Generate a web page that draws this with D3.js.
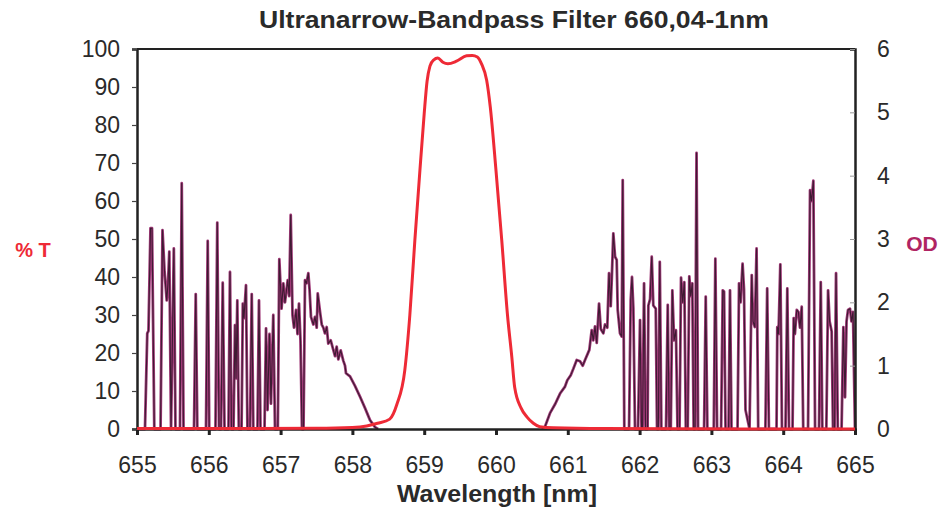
<!DOCTYPE html>
<html lang="en">
  <head>
    <meta charset="UTF-8" />
    <title>Ultranarrow-Bandpass Filter</title>
    <script src="https://cdn.jsdelivr.net/npm/d3@7"></script>
    <style>
      html,
      body {
        margin: 0;
        padding: 0;
        background: #fff;
      }
      svg {
        display: block;
      }
      .tick text {
        font-family: 'Liberation Sans', sans-serif;
        font-size: 23px;
        fill: #2a2a2a;
      }
    </style>
  </head>
  <body>
    <svg width="945" height="511"></svg>
    <script>
      const xTicks = [655, 656, 657, 658, 659, 660, 661, 662, 663, 664, 665];
      const tTicks = [0, 10, 20, 30, 40, 50, 60, 70, 80, 90, 100];
      const odTicks = [0, 1, 2, 3, 4, 5, 6];

      // %T curve [nm, %T]
      const transmission = [
        [655, 0.1], [657.5, 0.2], [658.0, 0.4], [658.2, 0.8], [658.35, 1.5],
        [658.52, 2.6], [658.62, 6.5], [658.73, 15.5], [658.8, 30], [658.87, 49.7],
        [658.94, 68], [659.0, 83], [659.04, 91.5], [659.08, 95.5], [659.13, 97.1],
        [659.19, 97.6], [659.26, 96.5], [659.33, 96.1], [659.45, 96.8], [659.59, 98.2],
        [659.67, 98.3], [659.74, 97.9], [659.8, 96], [659.87, 91.8], [659.92, 84.8],
        [660.0, 68], [660.08, 49.7], [660.16, 30], [660.22, 19], [660.26, 11],
        [660.35, 5.5], [660.43, 3.2], [660.52, 1.5], [660.61, 0.6], [660.8, 0.3],
        [661.5, 0.1], [665, 0]
      ];

      // OD below the passband [nm, OD]
      const odLeft = [
        [655.0, 0], [655.111, 0], [655.143, 1.51], [655.16, 1.55], [655.188, 3.17],
        [655.209, 3.17], [655.241, 0], [655.328, 0], [655.355, 3.14], [655.383, 2.5],
        [655.414, 2.03], [655.432, 2.3], [655.45, 2.8], [655.474, 0], [655.513, 2.85],
        [655.536, 0], [655.599, 0], [655.623, 3.88], [655.648, 0], [655.794, 0],
        [655.818, 2.13], [655.84, 0], [655.961, 0], [655.985, 2.97], [656.006, 0],
        [656.093, 0], [656.118, 3.26], [656.142, 0], [656.17, 0], [656.194, 2.31],
        [656.219, 0], [656.274, 0], [656.295, 2.48], [656.316, 0], [656.344, 0],
        [656.365, 1.64], [656.379, 0.8], [656.397, 2.03], [656.418, 0], [656.456, 0],
        [656.474, 1.98], [656.49, 1.75], [656.518, 2.27], [656.538, 0], [656.574, 0],
        [656.598, 2.13], [656.62, 0], [656.678, 0], [656.699, 2.03], [656.72, 0],
        [656.776, 0], [656.797, 1.59], [656.818, 0.3], [656.845, 1.5], [656.866, 0.4],
        [656.898, 1.8], [656.922, 0], [656.961, 0], [656.982, 2.68], [657.013, 1.9],
        [657.038, 2.3], [657.061, 2.0], [657.099, 2.35], [657.12, 2.1], [657.141, 3.38],
        [657.166, 1.8], [657.187, 1.6], [657.215, 1.88], [657.235, 1.5], [657.256, 1.98],
        [657.277, 1.4], [657.298, 0], [657.319, 0], [657.34, 2.35], [657.361, 2.3],
        [657.386, 2.46], [657.403, 2.2], [657.423, 1.77], [657.456, 1.65], [657.479, 1.77],
        [657.503, 1.6], [657.517, 2.14], [657.549, 1.85], [657.573, 1.65], [657.595, 1.6],
        [657.618, 1.51], [657.642, 1.61], [657.664, 1.35], [657.698, 1.4], [657.734, 1.25],
        [657.758, 1.15], [657.781, 1.3], [657.804, 1.1], [657.837, 1.24], [657.873, 1.08],
        [657.897, 1.0], [657.911, 0.88], [657.967, 0.83], [658.036, 0.68], [658.106, 0.51],
        [658.176, 0.33], [658.245, 0.14], [658.315, 0.03], [658.357, 0]
      ];

      // OD above the passband [nm, OD]
      const odRight = [
        [660.641, 0], [660.683, 0.04], [660.752, 0.25], [660.822, 0.39], [660.892, 0.56],
        [660.961, 0.67], [660.993, 0.77], [661.041, 0.85], [661.077, 0.95], [661.124, 1.09],
        [661.17, 1.07], [661.208, 1.0], [661.24, 1.09], [661.3, 1.25], [661.333, 1.56],
        [661.355, 1.4], [661.379, 1.62], [661.403, 1.36], [661.435, 1.98], [661.459, 1.58],
        [661.495, 1.51], [661.518, 1.65], [661.55, 1.6], [661.574, 2.46], [661.598, 1.94],
        [661.612, 2.36], [661.634, 3.09], [661.658, 2.72], [661.681, 2.67], [661.695, 1.88],
        [661.727, 1.51], [661.751, 1.46], [661.765, 3.93], [661.787, 0], [661.853, 0],
        [661.876, 2.03], [661.894, 2.4], [661.913, 1.9], [661.936, 0], [661.978, 0],
        [662.006, 1.72], [662.027, 0], [662.041, 0], [662.062, 2.3], [662.083, 0],
        [662.111, 0], [662.122, 1.95], [662.146, 2.05], [662.169, 2.72], [662.191, 1.95],
        [662.225, 1.9], [662.243, 0], [662.261, 0], [662.281, 2.64], [662.303, 0],
        [662.368, 0], [662.392, 1.96], [662.413, 0], [662.434, 0], [662.456, 2.19],
        [662.48, 1.4], [662.506, 1.56], [662.528, 0], [662.556, 0], [662.577, 2.39],
        [662.601, 2.0], [662.623, 2.32], [662.644, 0], [662.67, 0], [662.692, 2.41],
        [662.712, 2.1], [662.734, 2.3], [662.753, 0], [662.772, 0], [662.793, 4.36],
        [662.814, 0], [662.898, 0], [662.921, 2.09], [662.944, 0], [663.033, 0],
        [663.055, 2.69], [663.079, 0], [663.135, 0], [663.158, 2.19], [663.176, 2.17],
        [663.197, 0], [663.239, 0], [663.259, 2.19], [663.28, 0], [663.364, 0],
        [663.385, 2.3], [663.406, 2.0], [663.434, 2.61], [663.454, 2.2], [663.475, 0.3],
        [663.531, 0], [663.562, 2.43], [663.58, 1.7], [663.605, 1.61], [663.629, 2.85],
        [663.652, 0], [663.752, 0], [663.777, 2.22], [663.801, 0], [663.907, 0],
        [663.918, 1.61], [663.935, 1.5], [663.96, 2.6], [663.983, 0], [664.032, 0],
        [664.057, 2.22], [664.081, 0], [664.13, 0], [664.146, 1.75], [664.163, 1.5],
        [664.189, 1.88], [664.211, 1.85], [664.234, 1.6], [664.258, 1.93], [664.279, 0],
        [664.346, 0], [664.374, 3.77], [664.395, 3.6], [664.42, 3.92], [664.444, 0],
        [664.499, 0], [664.523, 2.32], [664.545, 0], [664.601, 0], [664.625, 2.19],
        [664.646, 1.7], [664.675, 1.54], [664.694, 0], [664.715, 0], [664.736, 2.46],
        [664.76, 0], [664.813, 0], [664.838, 1.61], [664.861, 0.5], [664.882, 1.7],
        [664.903, 1.88], [664.93, 1.9], [664.951, 1.7], [664.972, 1.85], [665.0, 0]
      ];

      const plotLeft = 137,
        plotRight = 855,
        plotTop = 49,
        plotBottom = 429;

      const svg = d3.select('svg');

      const xScale = d3
        .scaleLinear()
        .domain([655, 665])
        .range([plotLeft, plotRight]);
      const tScale = d3
        .scaleLinear()
        .domain([0, 100])
        .range([plotBottom, plotTop]);
      const odScale = d3
        .scaleLinear()
        .domain([0, 6])
        .range([plotBottom, plotTop]);

      // frame top line
      svg
        .append('line')
        .attr('x1', plotLeft)
        .attr('x2', plotRight)
        .attr('y1', plotTop)
        .attr('y2', plotTop)
        .style('stroke', '#222')
        .style('stroke-width', 2);

      const tLine = d3
        .line()
        .x(function(d) {
          return xScale(d[0]);
        })
        .y(function(d) {
          return tScale(d[1]);
        })
        .curve(d3.curveMonotoneX);

      const odLine = d3
        .line()
        .x(function(d) {
          return xScale(d[0]);
        })
        .y(function(d) {
          return odScale(d[1]);
        });

      // OD traces: magenta halo + dark core
      [odLeft, odRight].forEach(function(series) {
        svg
          .append('path')
          .datum(series)
          .attr('d', odLine)
          .style('fill', 'none')
          .style('stroke', '#a03a78')
          .style('stroke-width', 2.8)
          .style('stroke-linejoin', 'round');
        svg
          .append('path')
          .datum(series)
          .attr('d', odLine)
          .style('fill', 'none')
          .style('stroke', '#3e1a32')
          .style('stroke-width', 1.1)
          .style('stroke-linejoin', 'round');
      });

      // axes
      const xAxis = d3
        .axisBottom(xScale)
        .tickValues(xTicks)
        .tickFormat(d3.format('d'))
        .tickSize(6)
        .tickPadding(22);
      const tAxis = d3
        .axisLeft(tScale)
        .tickValues(tTicks)
        .tickSize(5)
        .tickPadding(12);
      const odAxis = d3
        .axisRight(odScale)
        .tickValues(odTicks)
        .tickFormat(d3.format('d'))
        .tickSize(-5)
        .tickPadding(22);

      svg
        .append('g')
        .attr('id', 'xAxisG')
        .attr('transform', 'translate(0,' + plotBottom + ')')
        .call(xAxis);
      svg
        .append('g')
        .attr('id', 'tAxisG')
        .attr('transform', 'translate(' + plotLeft + ',0)')
        .call(tAxis);
      svg
        .append('g')
        .attr('id', 'odAxisG')
        .attr('transform', 'translate(' + plotRight + ',0)')
        .call(odAxis);

      d3.selectAll('path.domain')
        .style('stroke', '#222')
        .style('stroke-width', 2.5);
      d3.select('#xAxisG')
        .selectAll('.tick line')
        .style('stroke', '#222')
        .style('stroke-width', 3);
      d3.select('#tAxisG')
        .selectAll('.tick line')
        .style('stroke', '#444')
        .style('stroke-width', 1.2);
      d3.select('#odAxisG')
        .selectAll('.tick line')
        .style('stroke', '#999')
        .style('stroke-width', 1);

      // %T curve on top
      svg
        .append('path')
        .datum(transmission)
        .attr('d', tLine)
        .style('fill', 'none')
        .style('stroke', '#ee2a36')
        .style('stroke-width', 3)
        .style('stroke-linejoin', 'round');

      // labels
      svg
        .append('text')
        .attr('x', 514)
        .attr('y', 28)
        .attr('text-anchor', 'middle')
        .attr('textLength', 510)
        .attr('lengthAdjust', 'spacingAndGlyphs')
        .style('font-family', "'Liberation Sans', sans-serif")
        .style('font-weight', 'bold')
        .style('font-size', '23px')
        .style('fill', '#2a2a2a')
        .text('Ultranarrow-Bandpass Filter 660,04-1nm');

      svg
        .append('text')
        .attr('x', 497)
        .attr('y', 502)
        .attr('text-anchor', 'middle')
        .attr('textLength', 200)
        .attr('lengthAdjust', 'spacingAndGlyphs')
        .style('font-family', "'Liberation Sans', sans-serif")
        .style('font-weight', 'bold')
        .style('font-size', '24px')
        .style('fill', '#2a2a2a')
        .text('Wavelength [nm]');

      svg
        .append('text')
        .attr('x', 33)
        .attr('y', 257)
        .attr('text-anchor', 'middle')
        .style('font-family', "'Liberation Sans', sans-serif")
        .style('font-weight', 'bold')
        .style('font-size', '20px')
        .style('fill', '#ee2a36')
        .text('% T');

      svg
        .append('text')
        .attr('x', 922)
        .attr('y', 251)
        .attr('text-anchor', 'middle')
        .style('font-family', "'Liberation Sans', sans-serif")
        .style('font-weight', 'bold')
        .style('font-size', '21px')
        .style('fill', '#b02463')
        .text('OD');
    </script>
  </body>
</html>
